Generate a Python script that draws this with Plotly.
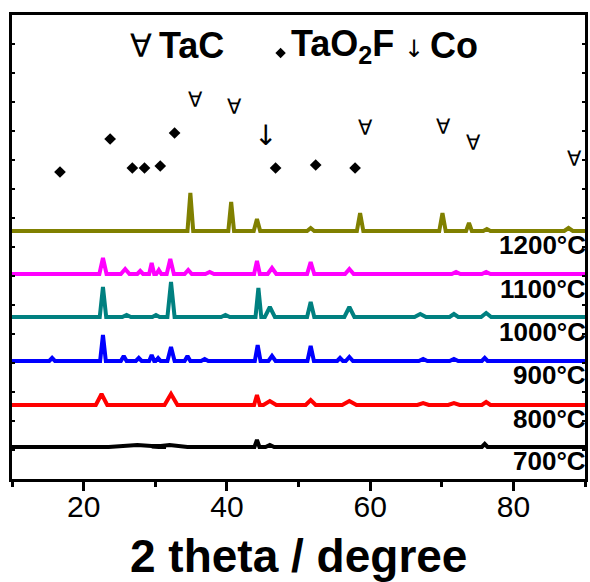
import plotly.graph_objects as go

# ---------------- data ----------------
temps = ["700°C", "800°C", "900°C", "1000°C", "1100°C", "1200°C"]
colors = ["#000000", "#FF0000", "#0000FF", "#008080", "#FF00FF", "#808000"]
offsets = [32, 74, 118, 162, 205, 248]          # vertical stacking offsets (a.u.)

# peaks: (2theta, intensity a.u., half-width deg)
peaks_700 = [(21.0, 1, 2.5), (27.5, 2, 4.0), (32.0, 2, 2.5), (44.2, 7, 0.35), (46.0, 2, 0.6), (76.0, 3, 0.4)]
peaks_800 = [(22.5, 11, 0.8), (32.2, 11, 0.9), (44.2, 10, 0.4), (46.0, 4, 0.9),
             (51.7, 5, 0.7), (57.1, 4, 1.0), (67.4, 2, 0.8), (71.7, 2, 0.8), (76.2, 3, 0.6)]
peaks_900 = [(15.6, 3, 0.4), (22.7, 26, 0.4), (25.6, 5, 0.4), (27.7, 3, 0.4), (29.5, 6, 0.35),
             (30.4, 3, 0.35), (32.2, 14, 0.5), (34.5, 5, 0.4), (36.9, 2, 0.5), (44.3, 16, 0.4),
             (46.3, 5, 0.5), (51.7, 15, 0.45), (55.8, 3, 0.4), (57.1, 4, 0.5), (67.4, 2, 0.6),
             (71.7, 2, 0.6), (76.0, 3, 0.4)]
peaks_1000 = [(22.7, 30, 0.45), (26.0, 2, 0.6), (30.1, 2, 0.5), (32.2, 35, 0.5), (39.8, 2, 0.6),
              (44.4, 29, 0.4), (46.0, 10, 0.7), (51.7, 15, 0.5), (57.1, 10, 0.7),
              (67.0, 3, 0.8), (71.7, 3, 0.6), (76.2, 4, 0.7)]
peaks_1100 = [(22.7, 16, 0.5), (25.8, 5, 0.6), (27.9, 3, 0.4), (29.5, 11, 0.35), (30.5, 4, 0.35),
              (32.1, 15, 0.5), (34.6, 4, 0.5), (37.6, 2, 0.6), (44.2, 13, 0.4), (46.3, 6, 0.6),
              (51.7, 12, 0.5), (57.1, 5, 0.6), (72.0, 2, 0.6), (76.2, 2, 0.6)]
peaks_1200 = [(34.9, 38, 0.4), (40.6, 29, 0.4), (44.2, 12, 0.45), (51.7, 3, 0.5), (58.6, 18, 0.45),
              (70.1, 18, 0.45), (73.8, 8, 0.4), (76.3, 2, 0.5), (87.7, 3, 0.6)]
all_peaks = [peaks_700, peaks_800, peaks_900, peaks_1000, peaks_1100, peaks_1200]

# phase marks (2theta, a.u.)
tac_x = [35.6, 41.1, 59.3, 70.2, 74.4, 88.6]
tac_y = [379, 372, 351, 352, 336, 320]
tao2f_x = [16.7, 23.7, 26.8, 28.5, 30.7, 32.7, 46.8, 52.4, 57.9]
tao2f_y = [307, 340, 311, 311, 313, 346, 311, 314, 311]
co_x = [45.4]
co_y = [344]

x_ticks = [20, 40, 60, 80]
x_minor = [10, 30, 50, 70, 90]

# ---------------- geometry helpers ----------------
W, H = 590, 582
L, R, T, B = 12, 2, 15, 103
PW, PH = W - L - R, H - T - B


def px(xp):
    return (xp - L) / PW


def py(yp):
    return (H - B - yp) / PH


def build(peaks, off):
    xs, ys = [10], [off]
    for p, h, w in peaks:
        xs += [p - w, p, p + w]
        ys += [off, off + h, off]
    xs.append(90)
    ys.append(off)
    return xs, ys


fig = go.Figure()
for pk, off, col in zip(all_peaks, offsets, colors):
    xs, ys = build(pk, off)
    fig.add_trace(go.Scatter(x=xs, y=ys, mode="lines",
                             line=dict(color=col, width=4), showlegend=False,
                             hoverinfo="skip"))

fig.add_trace(go.Scatter(x=tao2f_x, y=tao2f_y, mode="markers",
                         marker=dict(symbol="diamond", size=9, color="black"),
                         showlegend=False, hoverinfo="skip"))

ann = []
for x, y in zip(tac_x, tac_y):
    ann.append(dict(x=x, y=y, xref="x", yref="y", text="∀", showarrow=False,
                    font=dict(family="DejaVu Sans", size=21, color="black"),
                    xanchor="center", yanchor="middle"))
for x, y in zip(co_x, co_y):
    ann.append(dict(x=x, y=y, xref="x", yref="y", text="↓", showarrow=False,
                    font=dict(family="DejaVu Sans", size=28, color="black"),
                    xanchor="center", yanchor="middle"))

# phase key at top
key_font_b = dict(family="Liberation Sans", size=36, color="black")
ann.append(dict(x=px(129), y=py(46), xref="paper", yref="paper", text="∀", showarrow=False,
                font=dict(family="DejaVu Sans", size=32, color="black"),
                xanchor="left", yanchor="middle"))
ann.append(dict(x=px(158), y=py(46), xref="paper", yref="paper", text="<b>TaC</b>",
                showarrow=False, font=key_font_b, xanchor="left", yanchor="middle"))
ann.append(dict(x=px(290), y=py(46), xref="paper", yref="paper",
                text="<b>TaO<sub>2</sub>F</b>", showarrow=False, font=key_font_b,
                xanchor="left", yanchor="middle"))
ann.append(dict(x=px(416), y=py(49), xref="paper", yref="paper", text="↓", showarrow=False,
                font=dict(family="DejaVu Sans", size=24, color="black"),
                xanchor="center", yanchor="middle"))
ann.append(dict(x=px(430), y=py(46), xref="paper", yref="paper", text="<b>Co</b>",
                showarrow=False, font=key_font_b, xanchor="left", yanchor="middle"))

# temperature labels
label_y = [461, 419.5, 374.5, 332, 288.5, 244.5]
for t, yy in zip(temps, label_y):
    ann.append(dict(x=px(591), y=py(yy), xref="paper", yref="paper", text="<b>%s</b>" % t,
                    showarrow=False, font=dict(family="Liberation Sans", size=26, color="black"),
                    xanchor="right", yanchor="middle"))

# x title
ann.append(dict(x=px(300), y=py(556), xref="paper", yref="paper",
                text="<b>2 theta / degree</b>", showarrow=False,
                font=dict(family="Liberation Sans", size=46, color="black"),
                xanchor="center", yanchor="middle"))

fig.add_trace(go.Scatter(x=[px(282)], y=[py(53)], xaxis="x2", yaxis="y2", mode="markers",
                         marker=dict(symbol="diamond", size=8, color="black"),
                         showlegend=False, hoverinfo="skip"))

fig.update_layout(
    width=W, height=H, margin=dict(l=L, r=R, t=T, b=B),
    paper_bgcolor="white", plot_bgcolor="white",
    annotations=ann,
    xaxis=dict(range=[10, 90], tickvals=x_ticks, ticktext=[str(v) for v in x_ticks],
               ticks="outside", ticklen=9, tickwidth=2.5, tickcolor="black",
               ticklabelstandoff=-10,
               minor=dict(tickvals=x_minor, ticks="outside", ticklen=5, tickwidth=2.5,
                          tickcolor="black"),
               showline=True, linewidth=3, linecolor="black", mirror=True,
               showgrid=False, zeroline=False,
               tickfont=dict(family="Liberation Sans", size=30, color="black")),
    yaxis=dict(range=[0, 464], tick0=0, dtick=29, ticks="inside", ticklen=3, tickwidth=2,
               tickcolor="black", showticklabels=False, showline=True, linewidth=3,
               linecolor="black", mirror="allticks", showgrid=False, zeroline=False),
    xaxis2=dict(range=[0, 1], overlaying="x", visible=False, fixedrange=True),
    yaxis2=dict(range=[0, 1], overlaying="y", visible=False, fixedrange=True),
)

fig.write_html("out.html")
